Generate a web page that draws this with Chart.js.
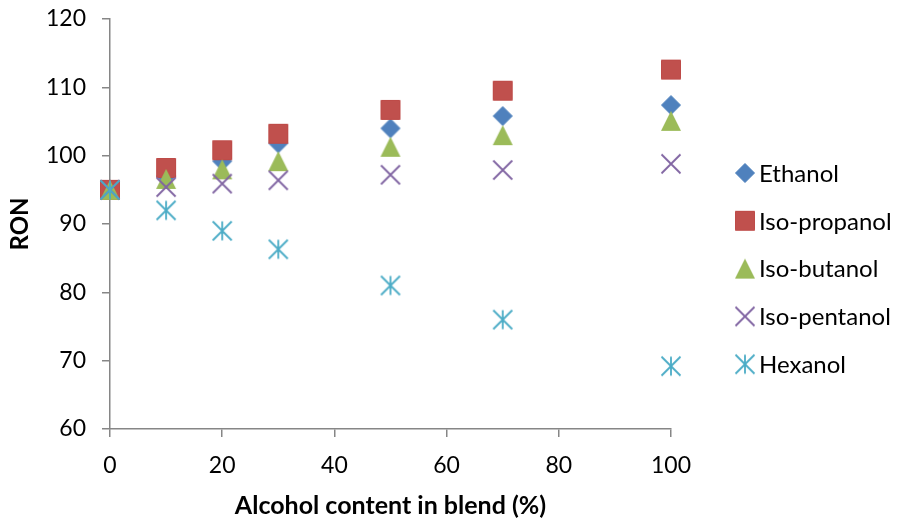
<!DOCTYPE html>
<html>
<head>
<meta charset="utf-8">
<script src="https://cdn.jsdelivr.net/npm/chart.js@4.4.1/dist/chart.umd.min.js"></script>
<style>
  html, body { margin: 0; padding: 0; background: #ffffff; }
  #wrap { width: 901px; height: 519px; position: relative; }
</style>
</head>
<body>
<div id="wrap"><canvas id="chart" width="901" height="519"></canvas></div>
<script>
// RON of gasoline/alcohol blends versus alcohol content (vol %)
const blendPct     = [0, 10, 20, 30, 50, 70, 100];
const ethanol      = [95, 97.0, 99.2, 101.8, 104.0, 105.8, 107.4];
const isoPropanol  = [95, 98.2, 100.8, 103.2, 106.7, 109.5, 112.6];
const isoButanol   = [95, 96.6, 98.0, 99.2, 101.3, 103.0, 105.1];
const isoPentanol  = [95, 95.4, 95.9, 96.4, 97.2, 97.9, 98.8];
const hexanol      = [95, 92.0, 89.0, 86.3, 81.0, 76.0, 69.2];
const seriesNames  = ['Ethanol', 'Iso-propanol', 'Iso-butanol', 'Iso-pentanol', 'Hexanol'];
const xTickLabels  = [0, 20, 40, 60, 80, 100];
const yTickLabels  = [60, 70, 80, 90, 100, 110, 120];

const FONT = 'Lato, "Open Sans", sans-serif';
const AXIS_GREY = '#868686';

// Small canvases used as marker shapes
function makeMarker(kind, fill, stroke) {
  const s = 24, m = s / 2;
  const c = document.createElement('canvas');
  c.width = s; c.height = s;
  const g = c.getContext('2d');
  g.fillStyle = fill;
  g.strokeStyle = stroke;
  g.lineWidth = 1;
  g.beginPath();
  if (kind === 'diamond') {
    const h = 9.5;
    g.moveTo(m, m - h); g.lineTo(m + h, m); g.lineTo(m, m + h); g.lineTo(m - h, m);
    g.closePath(); g.fill(); g.stroke();
  } else if (kind === 'square') {
    g.rect(m - 9.5, m - 9.5, 19, 19);
    g.fill(); g.stroke();
  } else if (kind === 'triangle') {
    g.moveTo(m, m - 10); g.lineTo(m + 10, m + 10); g.lineTo(m - 10, m + 10);
    g.closePath(); g.fill();
  } else if (kind === 'cross') {
    const h = 9.5;
    g.lineWidth = 1.8;
    g.moveTo(m - h, m - h); g.lineTo(m + h, m + h);
    g.moveTo(m + h, m - h); g.lineTo(m - h, m + h);
    g.stroke();
  } else if (kind === 'star') {
    const h = 9.5;
    g.lineWidth = 1.8;
    g.moveTo(m - h, m - h); g.lineTo(m + h, m + h);
    g.moveTo(m + h, m - h); g.lineTo(m - h, m + h);
    g.moveTo(m, m - h); g.lineTo(m, m + h);
    g.stroke();
  }
  return c;
}

const markers = [
  makeMarker('diamond', '#4F81BD', '#4A7EBB'),
  makeMarker('square', '#C0504D', '#BE4B48'),
  makeMarker('triangle', '#9BBB59', '#98B954'),
  makeMarker('cross', '#8064A2', '#8064A2'),
  makeMarker('star', '#4BACC6', '#4BACC6')
];

const seriesValues = [ethanol, isoPropanol, isoButanol, isoPentanol, hexanol];

const datasets = seriesValues.map((vals, i) => ({
  label: seriesNames[i],
  data: blendPct.map((x, k) => ({ x: x, y: vals[k] })),
  showLine: false,
  clip: false,
  pointStyle: markers[i],
  pointRadius: 10,
  pointHoverRadius: 10,
  order: seriesValues.length - 1 - i
}));

// Legend at the right: marker + name
const sideLegend = {
  id: 'sideLegend',
  afterDraw(chart) {
    const ctx = chart.ctx;
    const x0 = 745, y0 = 173, step = 47.8;
    ctx.save();
    ctx.font = '24px ' + FONT;
    ctx.fillStyle = '#000000';
    ctx.textBaseline = 'middle';
    ctx.textAlign = 'left';
    chart.data.datasets.forEach((ds, i) => {
      const y = y0 + i * step;
      const img = ds.pointStyle;
      ctx.drawImage(img, x0 - img.width / 2, y - img.height / 2);
      ctx.fillText(ds.label, x0 + 14, y + 1);
    });
    ctx.restore();
  }
};

new Chart(document.getElementById('chart'), {
  type: 'scatter',
  data: { datasets: datasets },
  plugins: [sideLegend],
  options: {
    responsive: false,
    animation: false,
    layout: { padding: { top: 19, right: 230, left: 0, bottom: 0 } },
    plugins: {
      legend: { display: false },
      tooltip: { enabled: false }
    },
    scales: {
      x: {
        type: 'linear',
        min: 0, max: 100,
        afterFit(scale) { scale.height = 90; scale.paddingLeft = 0; scale.paddingRight = 0; },
        afterBuildTicks(scale) { scale.ticks = xTickLabels.map(v => ({ value: v })); },
        border: { display: true, color: AXIS_GREY, width: 1.5 },
        grid: { drawOnChartArea: false, drawTicks: true, tickLength: 8, color: AXIS_GREY, lineWidth: 1.5 },
        ticks: { color: '#000000', font: { family: FONT, size: 23 }, padding: 15, maxRotation: 0 },
        title: {
          display: true,
          text: 'Alcohol content in blend (%)',
          color: '#000000',
          font: { family: FONT, size: 25, weight: 'bold' },
          padding: { top: 0, bottom: -2 }
        }
      },
      y: {
        type: 'linear',
        min: 60, max: 120,
        afterFit(scale) { scale.width = 110; scale.paddingTop = 0; scale.paddingBottom = 0; },
        afterBuildTicks(scale) { scale.ticks = yTickLabels.map(v => ({ value: v })); },
        border: { display: true, color: AXIS_GREY, width: 1.5 },
        grid: { drawOnChartArea: false, drawTicks: true, tickLength: 8, color: AXIS_GREY, lineWidth: 1.5 },
        ticks: { color: '#000000', font: { family: FONT, size: 23 }, padding: 16 },
        title: {
          display: true,
          text: 'RON',
          color: '#000000',
          font: { family: FONT, size: 24, weight: 'bold' },
          padding: { top: 6, bottom: 0 }
        }
      }
    }
  }
});
</script>
</body>
</html>
